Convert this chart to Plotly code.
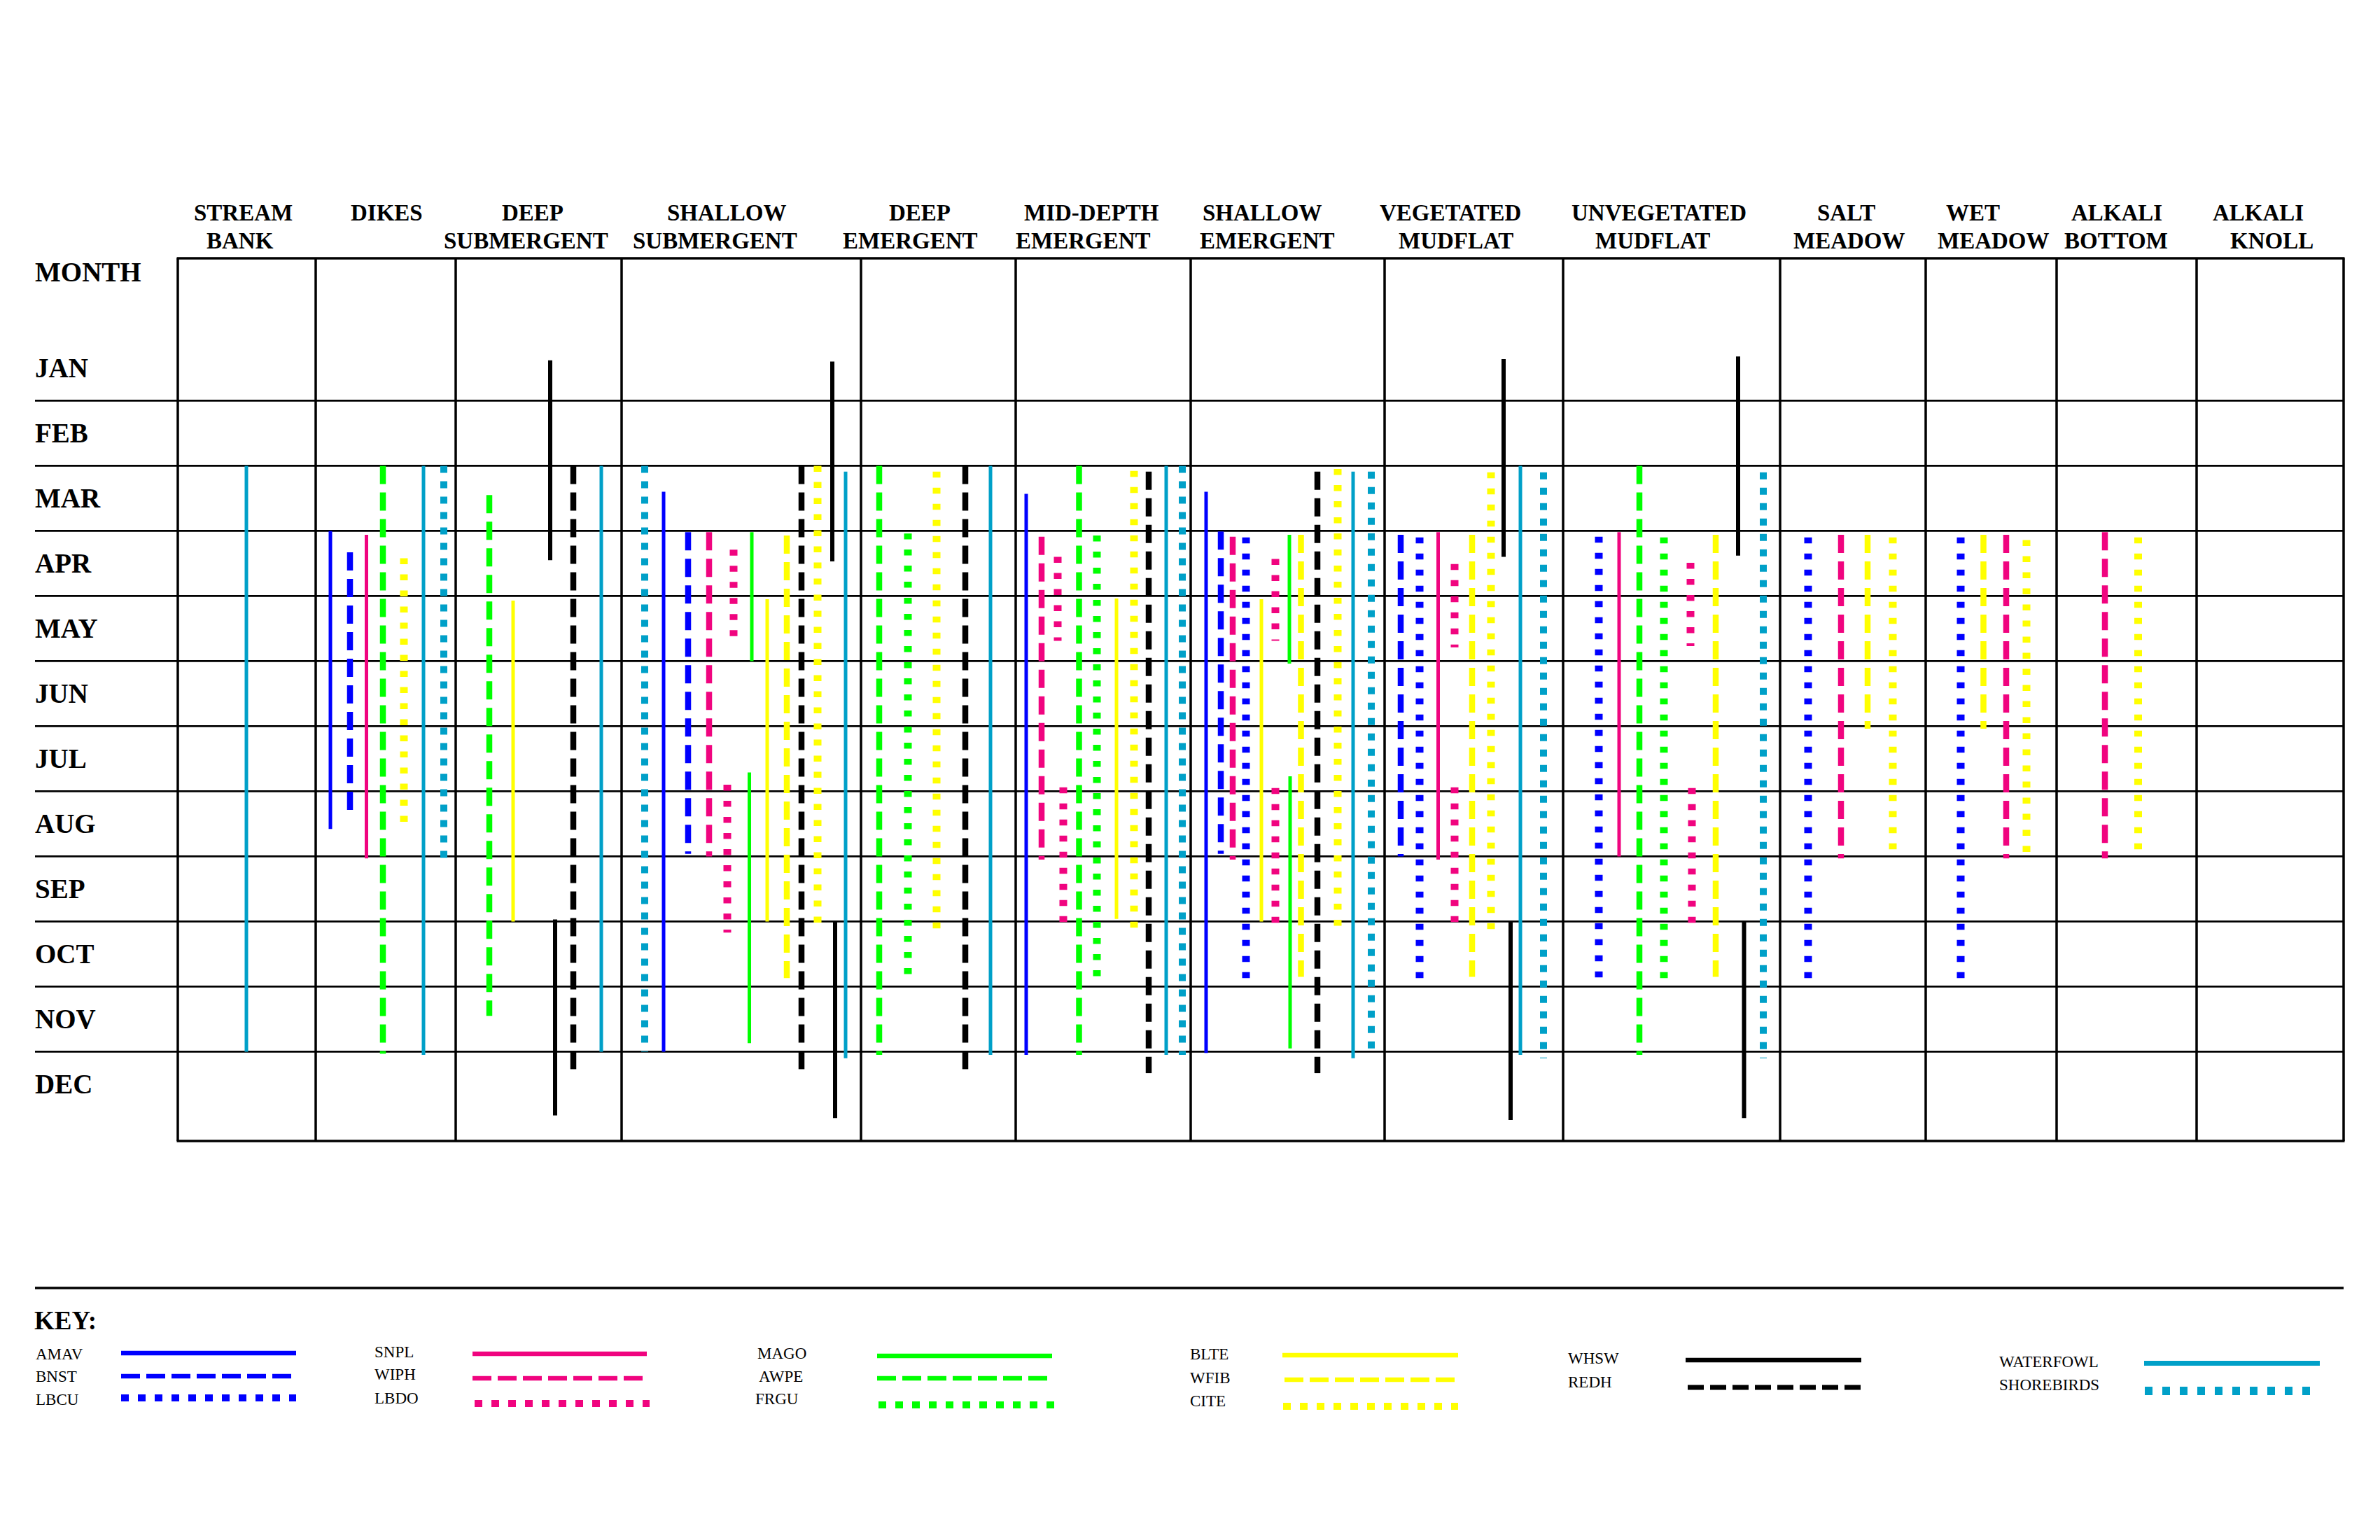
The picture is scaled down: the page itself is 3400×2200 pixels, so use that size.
import plotly.graph_objects as go

# ---------------- DATA ----------------
MONTHS = ["JAN", "FEB", "MAR", "APR", "MAY", "JUN", "JUL", "AUG", "SEP", "OCT", "NOV", "DEC"]

HABITATS = ["STREAM BANK", "DIKES", "DEEP SUBMERGENT", "SHALLOW SUBMERGENT", "DEEP EMERGENT",
            "MID-DEPTH EMERGENT", "SHALLOW EMERGENT", "VEGETATED MUDFLAT", "UNVEGETATED MUDFLAT",
            "SALT MEADOW", "WET MEADOW", "ALKALI BOTTOM", "ALKALI KNOLL"]

KEY_SPECIES = ["AMAV", "BNST", "LBCU", "SNPL", "WIPH", "LBDO", "MAGO", "AWPE", "FRGU",
               "BLTE", "WFIB", "CITE", "WHSW", "REDH", "WATERFOWL", "SHOREBIRDS"]

# Occurrence periods: months from Jan 1 (0) to Dec 31 (12)
OBS_HABITAT = (["STREAM BANK"]
               + ["DIKES"] * 7
               + ["DEEP SUBMERGENT"] * 6
               + ["SHALLOW SUBMERGENT"] * 15
               + ["DEEP EMERGENT"] * 5
               + ["MID-DEPTH EMERGENT"] * 11
               + ["SHALLOW EMERGENT"] * 14
               + ["VEGETATED MUDFLAT"] * 11
               + ["UNVEGETATED MUDFLAT"] * 10
               + ["SALT MEADOW"] * 4
               + ["WET MEADOW"] * 4
               + ["ALKALI BOTTOM"] * 2)

OBS_SPECIES = [
    "WATERFOWL",
    "AMAV", "BNST", "SNPL", "AWPE", "CITE", "WATERFOWL", "SHOREBIRDS",
    "AWPE", "BLTE", "WHSW", "WHSW", "REDH", "WATERFOWL",
    "SHOREBIRDS", "AMAV", "BNST", "WIPH", "LBDO", "LBDO", "MAGO", "MAGO", "BLTE", "WFIB",
    "REDH", "CITE", "WHSW", "WHSW", "WATERFOWL",
    "AWPE", "FRGU", "CITE", "REDH", "WATERFOWL",
    "AMAV", "WIPH", "LBDO", "LBDO", "AWPE", "FRGU", "BLTE", "CITE", "REDH", "WATERFOWL", "SHOREBIRDS",
    "AMAV", "BNST", "WIPH", "LBCU", "BLTE", "LBDO", "LBDO", "MAGO", "MAGO", "WFIB", "REDH", "CITE",
    "WATERFOWL", "SHOREBIRDS",
    "BNST", "LBCU", "SNPL", "LBDO", "LBDO", "WFIB", "CITE", "WHSW", "WHSW", "WATERFOWL", "SHOREBIRDS",
    "LBCU", "SNPL", "AWPE", "FRGU", "LBDO", "LBDO", "WFIB", "WHSW", "WHSW", "SHOREBIRDS",
    "LBCU", "WIPH", "WFIB", "CITE",
    "LBCU", "WFIB", "WIPH", "CITE",
    "WIPH", "CITE",
]

OBS_START = [
    2.0,
    3.0, 3.33, 3.06, 2.0, 3.42, 2.0, 2.0,
    2.45, 4.07, 0.38, 8.97, 2.0, 2.0,
    2.0, 2.40, 3.02, 3.02, 3.29, 6.90, 3.02, 6.71, 4.05, 3.07, 2.0, 2.0, 0.40, 9.0, 2.09,
    2.0, 3.04, 2.09, 2.0, 2.0,
    2.43, 3.09, 3.40, 6.94, 2.0, 3.07, 4.04, 2.08, 2.09, 2.0, 2.0,
    2.40, 3.01, 3.09, 3.10, 4.05, 3.43, 6.95, 3.06, 6.77, 3.06, 2.09, 2.05, 2.09, 2.09,
    3.06, 3.10, 3.02, 3.51, 6.94, 3.06, 2.10, 0.36, 9.0, 2.0, 2.10,
    3.09, 3.02, 2.0, 3.10, 3.49, 6.95, 3.06, 0.32, 9.0, 2.10,
    3.10, 3.06, 3.06, 3.10,
    3.10, 3.06, 3.06, 3.14,
    3.02, 3.10,
]

OBS_END = [
    11.0,
    7.58, 7.32, 8.03, 11.03, 7.56, 11.05, 8.07,
    10.45, 9.0, 3.45, 11.98, 11.28, 11.0,
    11.0, 11.0, 7.96, 8.0, 4.67, 9.17, 5.0, 10.87, 9.0, 9.87, 11.30, 9.17, 3.47, 12.02, 11.10,
    11.05, 9.94, 9.17, 11.30, 11.05,
    11.05, 8.05, 4.69, 9.13, 11.05, 9.90, 8.96, 9.13, 11.33, 11.05, 11.05,
    11.02, 7.96, 8.05, 9.90, 9.0, 4.69, 9.14, 5.04, 10.95, 9.85, 11.33, 9.13, 11.10, 11.05,
    8.0, 9.90, 8.05, 4.79, 9.13, 9.85, 9.17, 3.40, 12.05, 11.05, 11.10,
    9.90, 8.0, 11.05, 9.94, 4.77, 9.13, 9.85, 3.38, 12.02, 11.10,
    9.90, 8.03, 6.04, 8.0,
    9.90, 6.04, 8.03, 8.03,
    8.03, 8.0,
]

# ---------------- LAYOUT (positions / styles) ----------------
W, H = 3400, 2200
COLUMN_EDGES_PX = [254, 451, 651, 888, 1230, 1451, 1701, 1978, 2233, 2543, 2751, 2938, 3138, 3348]

OBS_X_PX = [
    352,
    472, 500, 523.5, 547, 577, 605, 634,
    699, 733, 786, 793, 819, 859,
    921, 948, 983, 1013, 1048, 1039, 1074, 1070.5, 1096, 1124, 1145, 1168, 1189, 1193, 1208,
    1256, 1297, 1338, 1379, 1415,
    1466, 1488, 1511, 1519, 1541.5, 1567, 1595, 1620, 1641, 1666, 1689,
    1723, 1744, 1761, 1780, 1802, 1822, 1822, 1842, 1843, 1858.5, 1882, 1911, 1933, 1959,
    2001, 2028, 2054.5, 2078, 2078, 2103, 2130, 2148, 2158, 2172, 2205,
    2284, 2313, 2342, 2377, 2415, 2417, 2451, 2483, 2491.5, 2519,
    2583, 2630, 2668, 2704,
    2801, 2833.5, 2866, 2895,
    3007, 3054.5,
]

HEADER_X1 = [347, 552, 761, 1038, 1314, 1559, 1803, 2072, 2370, 2637, 2818, 3024, 3226]
HEADER_X2 = [343, 552, 751, 1021, 1300, 1547, 1810, 2080, 2361, 2642, 2848, 3023, 3245]

Y0_PX, MONTH_PX = 479.4, 93.0


def ym(ypx):
    return (ypx - Y0_PX) / MONTH_PX


BLUE, PINK, GREEN, YELLOW, BLACK, TEAL = "#0000FF", "#F0047F", "#00FF00", "#FFFF00", "#000000", "#00A0C8"
COLORS = {"AMAV": BLUE, "BNST": BLUE, "LBCU": BLUE, "SNPL": PINK, "WIPH": PINK, "LBDO": PINK,
          "MAGO": GREEN, "AWPE": GREEN, "FRGU": GREEN, "BLTE": YELLOW, "WFIB": YELLOW, "CITE": YELLOW,
          "WHSW": BLACK, "REDH": BLACK, "WATERFOWL": TEAL, "SHOREBIRDS": TEAL}
KIND = {"AMAV": "solid", "SNPL": "solid", "MAGO": "solid", "BLTE": "solid", "WHSW": "solid",
        "WATERFOWL": "solid", "BNST": "dash", "WIPH": "dash", "AWPE": "dash", "WFIB": "dash",
        "REDH": "dash", "LBCU": "dot", "LBDO": "dot", "FRGU": "dot", "CITE": "dot",
        "SHOREBIRDS": "square"}

CHART_STYLE = {"solid": (5, "solid"), "dash": (8.5, "26px,12px"), "dot": (11, "8.5px,14.5px"),
               "square": (10, "10px,12px")}
KEY_STYLE = {"solid": (6.5, "solid"), "dash": (6.5, "27px,9px"), "dot": (10, "11px,13px"),
             "square": (12, "11px,14px")}

KEY_SWATCH = {  # x0, x1, y (px)
    "AMAV": (173, 423, 1933), "BNST": (173, 423, 1966), "LBCU": (173, 423, 1997),
    "SNPL": (675, 924, 1934), "WIPH": (675, 924, 1969), "LBDO": (678, 928, 2005),
    "MAGO": (1253, 1503, 1937), "AWPE": (1253, 1503, 1969), "FRGU": (1255, 1506, 2007),
    "BLTE": (1832, 2083, 1936), "WFIB": (1835, 2086, 1971), "CITE": (1833, 2083, 2009),
    "WHSW": (2408, 2659, 1943), "REDH": (2411, 2662, 1982),
    "WATERFOWL": (3063, 3314, 1947.5), "SHOREBIRDS": (3064, 3314, 1987),
}
KEY_LABEL = {
    "AMAV": (49, 1934), "BNST": (49, 1966), "LBCU": (49, 1999),
    "SNPL": (533, 1931), "WIPH": (533, 1963), "LBDO": (533, 1997),
    "MAGO": (1080, 1933), "AWPE": (1082, 1966), "FRGU": (1077, 1998),
    "BLTE": (1698, 1934), "WFIB": (1698, 1968), "CITE": (1698, 2001),
    "WHSW": (2238, 1940), "REDH": (2238, 1974),
    "WATERFOWL": (2854, 1945), "SHOREBIRDS": (2854, 1978),
}

FONT = "Liberation Serif, Times New Roman, serif"

fig = go.Figure()

# ---- occurrence lines, one trace per species ----
for sp in KEY_SPECIES:
    xs, ys = [], []
    for hab, s, a, b, xp in zip(OBS_HABITAT, OBS_SPECIES, OBS_START, OBS_END, OBS_X_PX):
        if s == sp:
            xs += [xp, xp, None]
            ys += [a, b, None]
    if not xs:
        continue
    w, dash = CHART_STYLE[KIND[sp]]
    if sp == "WHSW":
        w = 6
    fig.add_trace(go.Scatter(x=xs, y=ys, mode="lines", name=sp, showlegend=False,
                             connectgaps=False, hoverinfo="skip",
                             line=dict(color=COLORS[sp], width=w, dash=dash)))

# ---- key swatches ----
for sp in KEY_SPECIES:
    x0, x1, yp = KEY_SWATCH[sp]
    w, dash = KEY_STYLE[KIND[sp]]
    if sp == "REDH":
        dash = "23px,9px"
        w = 7
    if sp == "WATERFOWL":
        w = 7
    fig.add_trace(go.Scatter(x=[x0, x1], y=[ym(yp), ym(yp)], mode="lines", showlegend=False,
                             hoverinfo="skip", line=dict(color=COLORS[sp], width=w, dash=dash)))

shapes = []
top_m, bot_m = ym(369), ym(1630)
# month boundary lines
for k in range(1, 12):
    shapes.append(dict(type="line", xref="x", yref="y", x0=50, x1=COLUMN_EDGES_PX[-1], y0=k, y1=k,
                       line=dict(color="black", width=2.8), layer="below"))
# outer box top/bottom
for yy in (top_m, bot_m):
    shapes.append(dict(type="line", xref="x", yref="y", x0=COLUMN_EDGES_PX[0] - 1.5,
                       x1=COLUMN_EDGES_PX[-1] + 1.5, y0=yy, y1=yy,
                       line=dict(color="black", width=3.5), layer="below"))
# column borders
for xe in COLUMN_EDGES_PX:
    shapes.append(dict(type="line", xref="x", yref="y", x0=xe, x1=xe, y0=top_m, y1=bot_m,
                       line=dict(color="black", width=3.5), layer="below"))
# key separator
shapes.append(dict(type="line", xref="x", yref="y", x0=50, x1=3348, y0=ym(1840), y1=ym(1840),
                   line=dict(color="black", width=3.5), layer="below"))

annotations = []
# headers
for i, hab in enumerate(HABITATS):
    parts = hab.split(" ", 1)
    annotations.append(dict(x=HEADER_X1[i], y=ym(304), text="<b>" + parts[0] + "</b>",
                            showarrow=False, xanchor="center", yanchor="middle",
                            font=dict(family=FONT, size=33, color="black")))
    if len(parts) > 1:
        annotations.append(dict(x=HEADER_X2[i], y=ym(344), text="<b>" + parts[1] + "</b>",
                                showarrow=False, xanchor="center", yanchor="middle",
                                font=dict(family=FONT, size=33, color="black")))
# month labels
annotations.append(dict(x=48, y=ym(388), text="<b>MONTH</b>", showarrow=False, xanchor="left",
                        yanchor="middle", font=dict(family=FONT, size=39, color="black")))
for k, mname in enumerate(MONTHS):
    annotations.append(dict(x=48, y=k + 0.5, text="<b>" + mname + "</b>", showarrow=False,
                            xanchor="left", yanchor="middle",
                            font=dict(family=FONT, size=39, color="black")))
# key
annotations.append(dict(x=47, y=ym(1886), text="<b>KEY:</b>", showarrow=False, xanchor="left",
                        yanchor="middle", font=dict(family=FONT, size=37, color="black")))
for sp in KEY_SPECIES:
    xl, yl = KEY_LABEL[sp]
    annotations.append(dict(x=xl, y=ym(yl), text=sp, showarrow=False, xanchor="left",
                            yanchor="middle", font=dict(family=FONT, size=23, color="black")))

fig.update_layout(
    width=W, height=H, autosize=False,
    margin=dict(l=0, r=0, t=0, b=0, pad=0),
    paper_bgcolor="white", plot_bgcolor="white",
    xaxis=dict(range=[0, W], visible=False, fixedrange=True),
    yaxis=dict(range=[ym(H), ym(0)], visible=False, fixedrange=True),
    shapes=shapes, annotations=annotations, showlegend=False,
)

fig.write_html("out.html")
